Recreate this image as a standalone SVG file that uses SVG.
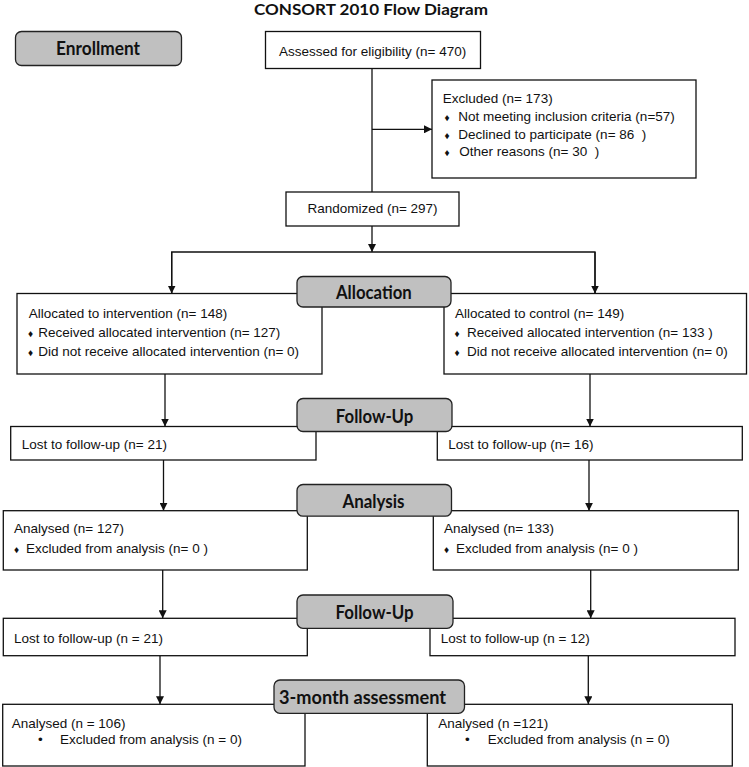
<svg xmlns="http://www.w3.org/2000/svg" width="749" height="767" viewBox="0 0 749 767">
<style>
.bg{fill:#ffffff}
.box{fill:#ffffff;stroke:#111;stroke-width:1.3}
.pill{fill:#c0c0c0;stroke:#222;stroke-width:1.3}
.t{font-family:"Liberation Sans",Arial,sans-serif;font-size:13.5px;fill:#111}
.d{font-size:10px}
.h{font-family:Lato,"Open Sans","Liberation Sans",sans-serif;font-weight:bold;font-size:18px;fill:#111}
.title{font-family:Lato,"Open Sans","Liberation Sans",sans-serif;font-weight:bold;font-size:16px;fill:#111}
.ln{fill:none;stroke:#111;stroke-width:1.3}
.arr{fill:none;stroke:#111;stroke-width:1.3;marker-end:url(#ah)}
</style>
<defs>
<marker id="ah" markerUnits="userSpaceOnUse" markerWidth="9" markerHeight="8" refX="8" refY="4" orient="auto">
<path d="M0,0 L8,4 L0,8 z" fill="#111"/>
</marker>
</defs>
<rect class="bg" x="0" y="0" width="749" height="767"/>
<text class="title" x="254" y="14.5" textLength="234" lengthAdjust="spacingAndGlyphs">CONSORT 2010 Flow Diagram</text>

<g id="connectors">
<line class="ln" x1="372" y1="68.5" x2="372" y2="192"/>
<line class="arr" x1="372" y1="129.3" x2="432" y2="129.3"/>
<line class="arr" x1="372" y1="226" x2="372" y2="252"/>
<polyline class="ln" points="171.7,293.5 171.7,252 595,252 595,293.5"/>
<line class="arr" x1="171.7" y1="252" x2="171.7" y2="293.5"/>
<line class="arr" x1="595" y1="252" x2="595" y2="293.5"/>
<line class="arr" x1="165" y1="374" x2="165" y2="426.5"/>
<line class="arr" x1="590" y1="374" x2="590" y2="426.5"/>
<line class="arr" x1="163.5" y1="460" x2="163.5" y2="510.7"/>
<line class="arr" x1="589" y1="460" x2="589" y2="510.7"/>
<line class="arr" x1="162.7" y1="570" x2="162.7" y2="618.3"/>
<line class="arr" x1="590.7" y1="570" x2="590.7" y2="618.3"/>
<line class="arr" x1="160" y1="655.7" x2="160" y2="704.3"/>
<line class="arr" x1="588.3" y1="655.7" x2="588.3" y2="704.3"/>
</g>

<g id="enrollment">
<rect class="pill" x="15.5" y="31.5" width="166" height="34" rx="6"/>
<text class="h" x="56" y="55" textLength="84" lengthAdjust="spacingAndGlyphs">Enrollment</text>
</g>

<g id="assessed">
<rect class="box" x="265.5" y="31.5" width="215" height="37"/>
<text class="t" x="279" y="56">Assessed for eligibility (n= 470)</text>
</g>

<g id="excluded">
<rect class="box" x="432" y="80" width="264" height="98"/>
<text class="t" x="442.7" y="103.3">Excluded (n= 173)</text>
<text class="t" y="121" xml:space="preserve"><tspan x="444.5" class="d">♦</tspan><tspan x="458.3">Not meeting inclusion criteria (n=57)</tspan></text>
<text class="t" y="138.5" xml:space="preserve"><tspan x="444.5" class="d">♦</tspan><tspan x="458.3">Declined to participate (n= 86  )</tspan></text>
<text class="t" y="156" xml:space="preserve"><tspan x="444.5" class="d">♦</tspan><tspan x="459.3">Other reasons (n= 30  )</tspan></text>
</g>

<g id="randomized">
<rect class="box" x="286" y="192" width="173" height="34"/>
<text class="t" x="372.5" y="213" text-anchor="middle">Randomized (n= 297)</text>
</g>

<g id="alloc-intervention">
<rect class="box" x="17" y="293.5" width="305" height="80.5"/>
<text class="t" x="28.7" y="318">Allocated to intervention (n= 148)</text>
<text class="t" y="337"><tspan x="28" class="d">♦</tspan><tspan x="38.3">Received allocated intervention (n= 127)</tspan></text>
<text class="t" y="356"><tspan x="28" class="d">♦</tspan><tspan x="38.3">Did not receive allocated intervention (n= 0)</tspan></text>
</g>

<g id="alloc-control">
<rect class="box" x="444" y="293.5" width="302.5" height="80.5"/>
<text class="t" x="455" y="318">Allocated to control (n= 149)</text>
<text class="t" y="337"><tspan x="454.5" class="d">♦</tspan><tspan x="467">Received allocated intervention (n= 133 )</tspan></text>
<text class="t" y="356"><tspan x="454.5" class="d">♦</tspan><tspan x="467">Did not receive allocated intervention (n= 0)</tspan></text>
</g>

<g id="allocation">
<rect class="pill" x="297" y="276.5" width="154" height="30.5" rx="6"/>
<text class="h" x="336" y="299.3" textLength="75.7" lengthAdjust="spacingAndGlyphs">Allocation</text>
</g>

<g id="lost1-left">
<rect class="box" x="10.7" y="426.5" width="305.3" height="33.5"/>
<text class="t" x="21.7" y="449">Lost to follow-up (n= 21)</text>
</g>

<g id="lost1-right">
<rect class="box" x="437.3" y="426.5" width="305" height="33.5"/>
<text class="t" x="448.3" y="449">Lost to follow-up (n= 16)</text>
</g>

<g id="followup1">
<rect class="pill" x="297" y="398.5" width="155" height="33" rx="6"/>
<text class="h" x="335.8" y="422.7" textLength="77.5" lengthAdjust="spacingAndGlyphs">Follow-Up</text>
</g>

<g id="analysed-left">
<rect class="box" x="3.3" y="510.7" width="304" height="59.3"/>
<text class="t" x="14" y="533.3">Analysed (n= 127)</text>
<text class="t" y="553.3"><tspan x="14" class="d">♦</tspan><tspan x="26">Excluded from analysis (n= 0 )</tspan></text>
</g>

<g id="analysed-right">
<rect class="box" x="433.3" y="510.7" width="305" height="59.3"/>
<text class="t" x="444" y="533.3">Analysed (n= 133)</text>
<text class="t" y="553.3"><tspan x="444" class="d">♦</tspan><tspan x="456">Excluded from analysis (n= 0 )</tspan></text>
</g>

<g id="analysis">
<rect class="pill" x="297" y="484.5" width="154.5" height="31.7" rx="6"/>
<text class="h" x="342.5" y="507.7" textLength="62" lengthAdjust="spacingAndGlyphs">Analysis</text>
</g>

<g id="lost2-left">
<rect class="box" x="3.3" y="618.3" width="304" height="37.4"/>
<text class="t" x="14" y="642.7">Lost to follow-up (n = 21)</text>
</g>

<g id="lost2-right">
<rect class="box" x="430" y="618.3" width="305" height="37.4"/>
<text class="t" x="440.7" y="642.7">Lost to follow-up (n = 12)</text>
</g>

<g id="followup2">
<rect class="pill" x="297" y="595" width="156" height="33.3" rx="6"/>
<text class="h" x="335.5" y="619" textLength="78" lengthAdjust="spacingAndGlyphs">Follow-Up</text>
</g>

<g id="final-left">
<rect class="box" x="2.7" y="704.3" width="302.3" height="61.7"/>
<text class="t" x="11.7" y="727.7">Analysed (n = 106)</text>
<text class="t" y="744.3"><tspan x="38">•</tspan><tspan x="60">Excluded from analysis (n = 0)</tspan></text>
</g>

<g id="final-right">
<rect class="box" x="427.3" y="704.3" width="305" height="61.7"/>
<text class="t" x="438.3" y="727.7">Analysed (n =121)</text>
<text class="t" y="744.3"><tspan x="465">•</tspan><tspan x="487.7">Excluded from analysis (n = 0)</tspan></text>
</g>

<g id="three-month">
<rect class="pill" x="274" y="680" width="190.5" height="33.3" rx="6"/>
<text class="h" x="279" y="704.2" textLength="167" lengthAdjust="spacingAndGlyphs">3-month assessment</text>
</g>
</svg>
